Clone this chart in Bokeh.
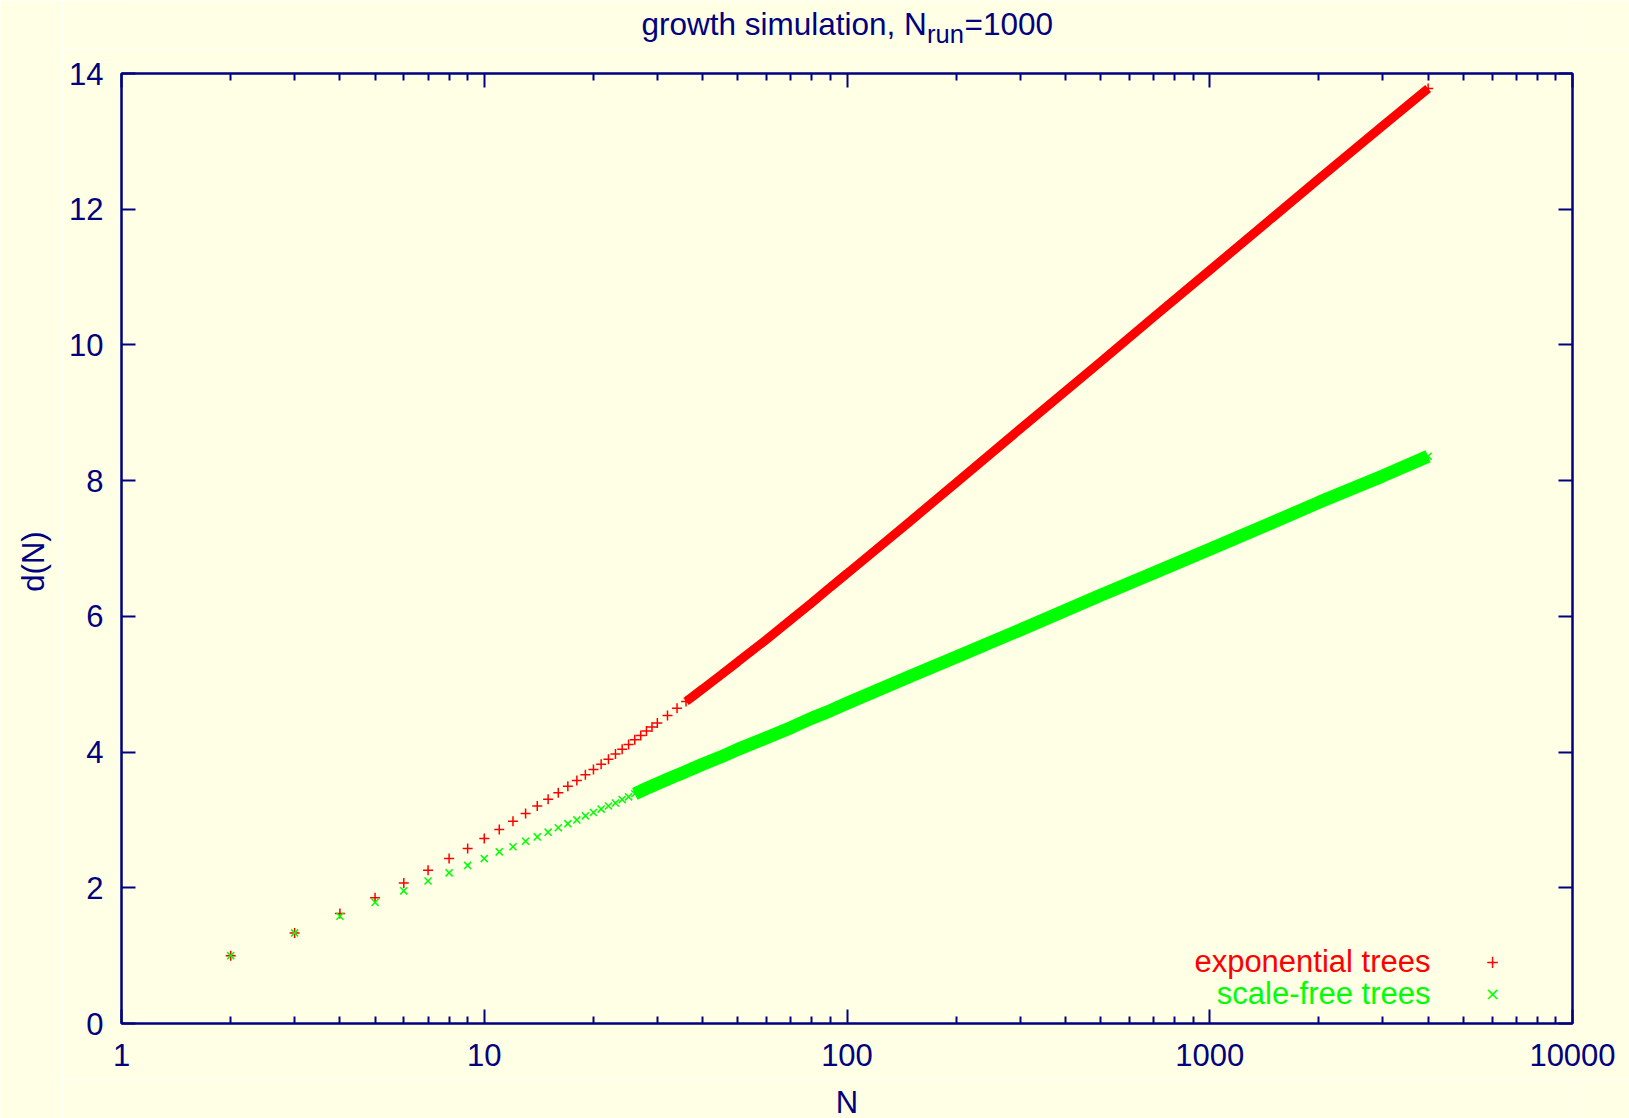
import math
from bokeh.plotting import figure
from bokeh.layouts import column, row
from bokeh.models import (FixedTicker, LinearAxis, LogAxis, Label, Range1d,
                          ColumnDataSource, PrintfTickFormatter)
from bokeh.core.properties import value
from bokeh.embed import file_html
from bokeh.resources import INLINE

# ---- data ----
N_vals = [2, 3, 4, 5, 6, 7, 8, 9, 10, 11, 12, 13, 14, 15, 16, 17, 18, 19, 20,
          21, 22, 23, 24, 25, 26, 27, 28, 29, 30, 32, 34, 36, 38, 40, 45, 50,
          60, 70, 80, 90, 100, 120, 150, 200, 300, 500, 700, 1000, 1500, 2000,
          3000, 4000]
d_exponential = [1.00, 1.335, 1.62, 1.855, 2.07, 2.26, 2.43, 2.58, 2.725, 2.86,
                 2.98, 3.095, 3.205, 3.305, 3.40, 3.495, 3.58, 3.665, 3.745,
                 3.82, 3.895, 3.97, 4.04, 4.11, 4.18, 4.245, 4.31, 4.37, 4.43,
                 4.54, 4.645, 4.745, 4.84, 4.93, 5.14, 5.33, 5.66, 5.95, 6.20,
                 6.43, 6.63, 6.98, 7.41, 7.97, 8.76, 9.75, 10.41, 11.10, 11.89,
                 12.45, 13.23, 13.78]
d_scalefree = [1.00, 1.335, 1.58, 1.785, 1.955, 2.10, 2.22, 2.33, 2.43, 2.53,
               2.605, 2.685, 2.75, 2.82, 2.885, 2.945, 3.00, 3.06, 3.11, 3.16,
               3.205, 3.25, 3.30, 3.34, 3.385, 3.425, 3.465, 3.50, 3.535, 3.60,
               3.66, 3.715, 3.77, 3.82, 3.93, 4.04, 4.21, 4.36, 4.50, 4.61,
               4.72, 4.90, 5.12, 5.40, 5.80, 6.31, 6.64, 6.99, 7.39, 7.68, 8.07,
               8.36]
x_major = [1, 10, 100, 1000, 10000]
x_minor = [m * 10 ** k for k in range(4) for m in range(2, 10)]
y_major = [0, 2, 4, 6, 8, 10, 12, 14]
series_names = ["exponential trees", "scale-free trees"]
title_main, title_sub, title_tail = "growth simulation, N", "run", "=1000"
x_label, y_label = "N", "d(N)"

NAVY = "#000080"
BG = "#FFFFE5"
RED = "#FF0000"
GREEN = "#00FF00"
FONT = "Liberation Sans"
FS = "31px"

W_TOTAL, H_TOTAL = 1629, 1118
LEFT_W = 62                      # strip holding the rotated y-axis title
W = W_TOTAL - LEFT_W
FRAME_L, FRAME_R = 121, 1572     # frame edges in page pixels
BL, BR = FRAME_L - LEFT_W, W_TOTAL - FRAME_R
TITLE_H = 48
MAIN_TOP, FRAME_H, MAIN_BOT = 25, 950, 56
MAIN_H = MAIN_TOP + FRAME_H + MAIN_BOT
FOOT_H = H_TOTAL - TITLE_H - MAIN_H


def strip(width, height, xr, bl, br):
    f = figure(width=width, height=height, x_range=xr,
               y_range=Range1d(height, 0), output_backend="svg",
               toolbar_location=None, min_border_left=bl, min_border_right=br,
               min_border_top=0, min_border_bottom=0,
               x_axis_location=None, y_axis_location=None)
    f.background_fill_color = BG
    f.border_fill_color = BG
    f.outline_line_color = None
    f.grid.visible = False
    return f


# ---------------- y-axis title strip (page px coordinates) ----------------
ls = strip(LEFT_W, H_TOTAL, Range1d(0, LEFT_W), 0, 0)
ls.text(x=[33], y=[561], text=[y_label], angle=math.pi / 2, text_font=value(FONT),
        text_font_size=FS, text_color=NAVY, text_baseline="middle", text_align="center")

# ---------------- title strip (page px coordinates) ----------------
t = strip(W, TITLE_H, Range1d(FRAME_L, FRAME_R), BL, BR)
t.text(x=[641], y=[23.3], text=[title_main], text_font=value(FONT),
       text_font_size="31.5px", text_color=NAVY, text_baseline="middle", text_align="left")
t.text(x=[926.5], y=[33], text=[title_sub], text_font=value(FONT),
       text_font_size="25.5px", text_color=NAVY, text_baseline="middle", text_align="left")
t.text(x=[964], y=[23.3], text=[title_tail], text_font=value(FONT),
       text_font_size="31.5px", text_color=NAVY, text_baseline="middle", text_align="left")

# ---------------- main plot ----------------
src = ColumnDataSource(dict(N=N_vals, e=d_exponential, s=d_scalefree))
band_start_e = N_vals.index(36)
band_start_s = N_vals.index(26)
src_be = ColumnDataSource(dict(N=N_vals[band_start_e:], e=d_exponential[band_start_e:]))
src_bs = ColumnDataSource(dict(N=N_vals[band_start_s:], s=d_scalefree[band_start_s:]))

p = figure(width=W, height=MAIN_H, x_axis_type="log",
           x_range=Range1d(1, 10000), y_range=Range1d(0, 14),
           output_backend="svg", toolbar_location=None,
           min_border_left=BL, min_border_right=BR,
           min_border_top=MAIN_TOP, min_border_bottom=MAIN_BOT)
p.background_fill_color = BG
p.border_fill_color = BG
p.outline_line_color = NAVY
p.outline_line_width = 2
p.grid.visible = False

p.add_layout(LinearAxis(), "right")
p.add_layout(LogAxis(), "above")

for ax in p.xaxis:
    ax.ticker = FixedTicker(ticks=x_major, minor_ticks=x_minor)
    ax.formatter = PrintfTickFormatter(format="%d")
for ax in p.yaxis:
    ax.ticker = FixedTicker(ticks=y_major, minor_ticks=[])
for ax in list(p.xaxis) + list(p.yaxis):
    ax.axis_line_color = NAVY
    ax.axis_line_width = 2
    ax.major_tick_line_color = NAVY
    ax.major_tick_line_width = 2
    ax.minor_tick_line_color = NAVY
    ax.minor_tick_line_width = 2
    ax.major_tick_in = 14
    ax.major_tick_out = 0
    ax.minor_tick_in = 7
    ax.minor_tick_out = 0
    ax.major_label_text_color = NAVY
    ax.major_label_text_font = FONT
    ax.major_label_text_font_size = FS

p.below[0].major_label_standoff = 20
p.left[0].major_label_standoff = 18
for ax in (p.right[0], p.above[0]):
    ax.major_label_text_font_size = "0px"
    ax.major_label_text_color = None
    ax.major_label_standoff = 0

# thick bands where the markers overlap
p.line("N", "e", source=src_be, line_color=RED, line_width=9)
p.line("N", "s", source=src_bs, line_color=GREEN, line_width=13)
# markers
p.scatter("N", "e", source=src, marker="cross", size=10, line_color=RED, line_width=1.5)
p.scatter("N", "s", source=src, marker="x", size=10, line_color=GREEN, line_width=1.5)

# key (text on the left, sample mark on the right, like the reference)
p.add_layout(Label(x=1309, y=61.7, x_units="screen", y_units="screen", text=series_names[0],
                   text_font=FONT, text_font_size=FS, text_color=RED,
                   text_baseline="middle", text_align="right"))
p.add_layout(Label(x=1309, y=29.7, x_units="screen", y_units="screen", text=series_names[1],
                   text_font=FONT, text_font_size=FS, text_color=GREEN,
                   text_baseline="middle", text_align="right"))
p.add_layout(Label(x=1371, y=61.7, x_units="screen", y_units="screen", text="+",
                   text_font="DejaVu Sans", text_font_size="17px", text_color=RED,
                   text_baseline="middle", text_align="center"))
p.add_layout(Label(x=1371, y=29.7, x_units="screen", y_units="screen", text="\u00d7",
                   text_font="DejaVu Sans", text_font_size="18px", text_color=GREEN,
                   text_baseline="middle", text_align="center"))

# ---------------- x-axis title strip ----------------
b = strip(W, FOOT_H, Range1d(FRAME_L, FRAME_R), BL, BR)
b.text(x=[846.5], y=[1101.5 - TITLE_H - MAIN_H], text=[x_label], text_font=value(FONT),
       text_font_size=FS, text_color=NAVY, text_baseline="middle", text_align="center")

layout = row(ls, column(t, p, b, spacing=0), spacing=0)
open("out.html", "w").write(file_html(layout, INLINE))
